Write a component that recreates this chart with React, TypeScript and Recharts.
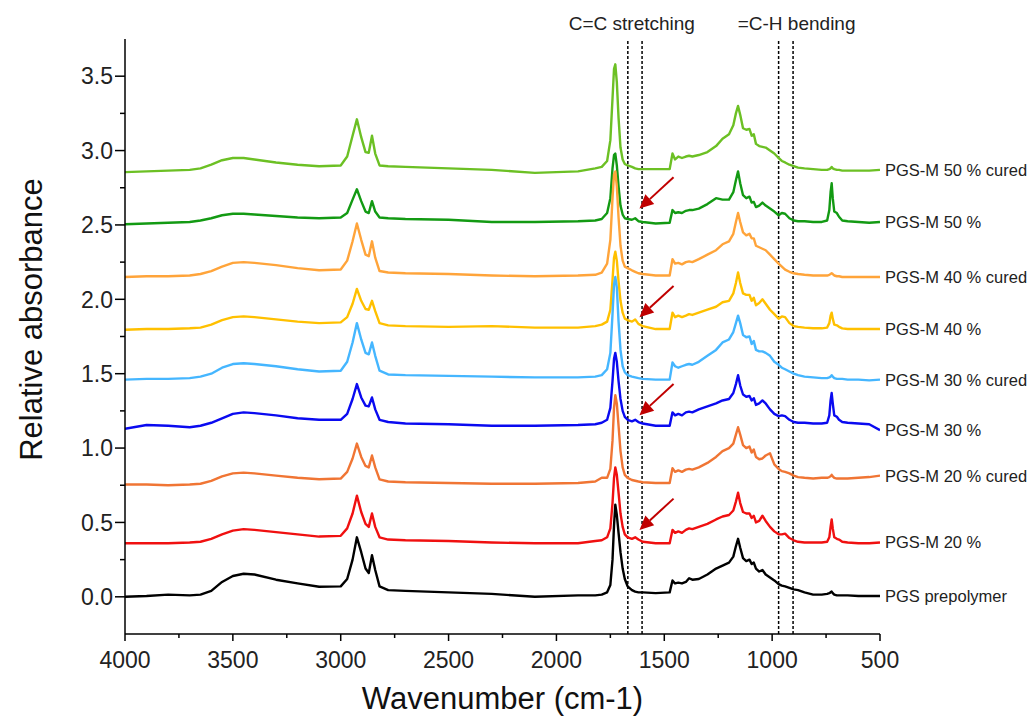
import React from "react";
import { LineChart, Line, XAxis, YAxis, ReferenceLine, LabelList } from "recharts";

// wavenumbers (cm-1) shared by all spectra
const WN = [
  4000, 3900, 3800, 3700, 3650, 3600, 3550, 3500, 3450, 3400, 3300, 3200, 3100, 3000,
  2970, 2945, 2925, 2905, 2885, 2870, 2855, 2840, 2820, 2780,
  2700, 2500, 2300, 2100, 1900, 1820,
  1790, 1765, 1750, 1740, 1733, 1727, 1720, 1712, 1703, 1693, 1683, 1670,
  1650, 1635, 1620, 1600, 1540, 1475,
  1462, 1450, 1435, 1418, 1400, 1385, 1370, 1340, 1300, 1260, 1230, 1200, 1180, 1168, 1158, 1148, 1135,
  1120, 1105, 1095, 1085, 1075, 1060, 1045, 1030, 1010, 990, 970, 955, 940, 920, 900, 880,
  850, 810, 770, 745, 735, 729, 724, 719, 712, 700, 690, 675, 650, 600, 550, 500,
];

const PGS_PREPOLYMER = [
  0, 0.005, 0.015, 0.01, 0.015, 0.04, 0.1, 0.14, 0.155, 0.15, 0.115, 0.09, 0.068, 0.07,
  0.12, 0.25, 0.4, 0.3, 0.19, 0.16, 0.28, 0.18, 0.07, 0.045,
  0.04, 0.03, 0.02, 0, 0.01, 0.01,
  0.015, 0.03, 0.08, 0.25, 0.48, 0.62, 0.55, 0.43, 0.3, 0.19, 0.12, 0.07,
  0.045, 0.035, 0.03, 0.03, 0.025, 0.03,
  0.11, 0.09, 0.095, 0.09, 0.1, 0.125, 0.115, 0.12, 0.15, 0.19, 0.21, 0.23, 0.27, 0.34, 0.39, 0.33, 0.26,
  0.24, 0.25, 0.22, 0.23, 0.19, 0.17, 0.18, 0.15, 0.13, 0.11, 0.085, 0.075, 0.07, 0.06, 0.05, 0.045,
  0.03, 0.015, 0.015, 0.02, 0.025, 0.03, 0.035, 0.025, 0.015, 0.01, 0.01, 0.01, 0.01, 0.005, 0.005, 0.005,
];

const PGSM_20 = [
  0.36, 0.36, 0.36, 0.365, 0.37, 0.39, 0.42, 0.445, 0.455, 0.45, 0.435, 0.42, 0.405, 0.41,
  0.46, 0.56, 0.68, 0.57, 0.49, 0.47, 0.56, 0.47, 0.4, 0.385,
  0.38, 0.375, 0.365, 0.36, 0.36, 0.375,
  0.38, 0.4, 0.46, 0.63, 0.8, 0.87, 0.82, 0.7, 0.56, 0.47, 0.42, 0.4,
  0.39, 0.4, 0.385, 0.37, 0.36, 0.36,
  0.45, 0.43, 0.44, 0.43, 0.45, 0.46, 0.455, 0.47, 0.49, 0.52, 0.54, 0.55, 0.58, 0.64, 0.7, 0.63, 0.57,
  0.56, 0.56, 0.53, 0.545, 0.5, 0.51, 0.545, 0.51, 0.47, 0.44, 0.42, 0.42, 0.425, 0.395, 0.38, 0.37,
  0.365, 0.365, 0.365, 0.37, 0.4, 0.47, 0.52, 0.46, 0.4, 0.39, 0.385, 0.37, 0.365, 0.36, 0.36, 0.365,
];

const PGSM_20_CURED = [
  0.755, 0.755, 0.75, 0.755, 0.76, 0.78, 0.81, 0.83, 0.835, 0.83, 0.815, 0.8, 0.79, 0.795,
  0.84, 0.93, 1.03, 0.94, 0.88, 0.87, 0.95, 0.87, 0.79, 0.775,
  0.77, 0.765, 0.76, 0.76, 0.765, 0.775,
  0.8, 0.8, 0.86, 1.05, 1.27, 1.355, 1.3, 1.15, 0.98, 0.87, 0.82, 0.8,
  0.785, 0.78, 0.775, 0.77, 0.765, 0.765,
  0.865, 0.84, 0.85, 0.84, 0.855, 0.86, 0.855, 0.87, 0.9, 0.94, 0.98, 1.0, 1.03, 1.09, 1.14, 1.09, 1.02,
  1.0, 1.01, 0.97, 0.99, 0.94, 0.925, 0.93, 0.95, 0.965, 0.89, 0.86, 0.845, 0.84, 0.83, 0.815, 0.805,
  0.8, 0.795, 0.8, 0.8, 0.805, 0.81, 0.82, 0.81, 0.8, 0.795, 0.795, 0.795, 0.795, 0.8, 0.805, 0.815,
];

const PGSM_30 = [
  1.13, 1.155, 1.15, 1.14, 1.15, 1.17, 1.2, 1.23, 1.24, 1.235, 1.22, 1.2, 1.19, 1.19,
  1.23, 1.33, 1.43, 1.34, 1.285, 1.28, 1.34, 1.26, 1.19, 1.175,
  1.165, 1.16, 1.15, 1.15, 1.155, 1.16,
  1.17, 1.19, 1.27, 1.45, 1.6, 1.64, 1.58, 1.45, 1.33, 1.25, 1.21, 1.19,
  1.18, 1.19, 1.175, 1.165, 1.15, 1.15,
  1.24, 1.22, 1.23, 1.22, 1.24, 1.245, 1.24, 1.26, 1.28, 1.3, 1.32, 1.33, 1.37, 1.43, 1.49, 1.42, 1.36,
  1.345, 1.35, 1.32, 1.335, 1.29, 1.3, 1.32, 1.3, 1.26, 1.23, 1.215, 1.22, 1.215, 1.19, 1.175, 1.17,
  1.17, 1.165, 1.165, 1.17, 1.22, 1.32, 1.37, 1.3, 1.22, 1.21, 1.19, 1.175, 1.17, 1.165, 1.16, 1.12,
];

const PGSM_30_CURED = [
  1.46, 1.465, 1.465, 1.47, 1.48, 1.5, 1.54, 1.565, 1.57, 1.565, 1.55, 1.53, 1.515, 1.52,
  1.58, 1.71, 1.84, 1.73, 1.64, 1.63, 1.71, 1.62, 1.52, 1.495,
  1.49, 1.485, 1.48, 1.475, 1.475, 1.48,
  1.49, 1.53, 1.64, 1.9, 2.1, 2.15, 2.08, 1.85, 1.66, 1.55, 1.51, 1.49,
  1.48, 1.475, 1.47, 1.465, 1.46, 1.46,
  1.575, 1.55, 1.54, 1.55, 1.56, 1.565, 1.56, 1.58, 1.62, 1.66, 1.71, 1.73, 1.78, 1.84, 1.89, 1.84, 1.76,
  1.745, 1.75, 1.7, 1.72, 1.66, 1.65, 1.65, 1.64, 1.62, 1.58, 1.56, 1.54, 1.53, 1.515, 1.5, 1.49,
  1.48, 1.475, 1.47, 1.47, 1.475, 1.48, 1.49, 1.48, 1.47, 1.465, 1.465, 1.465, 1.46, 1.46, 1.455, 1.46,
];

const PGSM_40 = [
  1.795, 1.8, 1.8, 1.805, 1.81, 1.83, 1.86, 1.88, 1.885, 1.88, 1.865, 1.85, 1.84, 1.845,
  1.88, 1.97, 2.07, 1.99, 1.935, 1.93, 1.99, 1.92, 1.84, 1.825,
  1.82, 1.815, 1.82, 1.81, 1.81, 1.82,
  1.83, 1.85, 1.93, 2.13, 2.28, 2.32, 2.26, 2.12, 1.99, 1.91, 1.87, 1.86,
  1.85, 1.865, 1.835, 1.82, 1.8, 1.8,
  1.91, 1.88, 1.89, 1.88, 1.89, 1.9, 1.895, 1.91, 1.93, 1.95, 1.98, 1.99, 2.04, 2.11, 2.18, 2.11, 2.04,
  2.03, 2.03, 1.99, 2.01, 1.96, 1.975, 2.0, 1.97, 1.93, 1.9, 1.87, 1.885, 1.88, 1.84, 1.82, 1.815,
  1.81, 1.805, 1.805, 1.81, 1.84, 1.89, 1.91, 1.87, 1.83, 1.825, 1.815, 1.805, 1.8, 1.8, 1.8, 1.8,
];

const PGSM_40_CURED = [
  2.15, 2.155, 2.155, 2.16, 2.17, 2.19, 2.22, 2.245, 2.25, 2.245, 2.23, 2.21, 2.195, 2.2,
  2.26, 2.39, 2.51, 2.4, 2.3, 2.29, 2.39, 2.28, 2.19, 2.18,
  2.175, 2.17, 2.16, 2.155, 2.16, 2.165,
  2.18, 2.24, 2.4, 2.68, 2.84, 2.86, 2.76, 2.55, 2.36, 2.26, 2.22, 2.21,
  2.195, 2.185, 2.175, 2.17, 2.16, 2.16,
  2.27, 2.24, 2.245, 2.235, 2.25, 2.255, 2.25, 2.27, 2.3, 2.33, 2.37, 2.39, 2.44, 2.52, 2.58, 2.52, 2.45,
  2.43, 2.44, 2.41, 2.41, 2.36, 2.35, 2.34, 2.33, 2.3, 2.27, 2.24, 2.22, 2.2, 2.185, 2.175, 2.17,
  2.165, 2.16, 2.16, 2.16, 2.165, 2.17, 2.175, 2.17, 2.16, 2.155, 2.155, 2.15, 2.15, 2.15, 2.15, 2.15,
];

const PGSM_50 = [
  2.505, 2.51, 2.515, 2.52, 2.53, 2.545, 2.565, 2.575, 2.575, 2.57, 2.56, 2.55, 2.545, 2.55,
  2.58, 2.67, 2.74, 2.66, 2.59, 2.58, 2.66, 2.59, 2.55, 2.545,
  2.54, 2.535, 2.52, 2.52, 2.525, 2.53,
  2.54, 2.58, 2.68, 2.88, 2.97, 2.98, 2.9, 2.76, 2.63, 2.57, 2.545, 2.54,
  2.535, 2.545, 2.525, 2.52, 2.51, 2.515,
  2.6, 2.58, 2.585, 2.58, 2.595, 2.6, 2.6, 2.61, 2.64, 2.68, 2.67, 2.67, 2.72, 2.8, 2.86, 2.78, 2.7,
  2.68, 2.69, 2.65, 2.655, 2.62, 2.63, 2.65, 2.63, 2.61, 2.59, 2.565, 2.58, 2.575, 2.545, 2.53, 2.525,
  2.525, 2.52, 2.52, 2.53, 2.6, 2.72, 2.78, 2.68, 2.59, 2.58, 2.555, 2.53, 2.525, 2.52, 2.515, 2.52,
];

const PGSM_50_CURED = [
  2.855, 2.86, 2.865, 2.87, 2.88, 2.905, 2.935, 2.95, 2.95, 2.94, 2.92, 2.905, 2.895, 2.9,
  2.96, 3.1, 3.21, 3.09, 2.99, 2.985, 3.1, 2.98, 2.9, 2.895,
  2.89, 2.88, 2.87, 2.85, 2.86, 2.88,
  2.89, 2.93, 3.07, 3.35, 3.55, 3.58, 3.46, 3.22, 3.02, 2.94, 2.91, 2.9,
  2.89, 2.88, 2.875, 2.875, 2.875, 2.875,
  2.98, 2.94, 2.96, 2.95, 2.96, 2.965, 2.96, 2.97, 2.99, 3.03, 3.08, 3.11, 3.17, 3.25, 3.3, 3.24, 3.15,
  3.14, 3.145, 3.1, 3.11, 3.045, 3.03, 3.025, 3.02, 3.0, 2.98, 2.95, 2.93, 2.92, 2.905, 2.895, 2.885,
  2.88, 2.875, 2.87, 2.87, 2.875, 2.88, 2.89, 2.88, 2.875, 2.87, 2.87, 2.865, 2.865, 2.865, 2.865, 2.87,
];

const X_TICKS = [4000, 3750, 3500, 3250, 3000, 2750, 2500, 2250, 2000, 1750, 1500, 1250, 1000, 750, 500];
const Y_TICKS = [0, 0.25, 0.5, 0.75, 1, 1.25, 1.5, 1.75, 2, 2.25, 2.5, 2.75, 3, 3.25, 3.5];

// dashed marker lines (cm-1)
const CC_STRETCH = [1669, 1603];
const CH_BEND = [970, 903];

// arrows pointing at the C=C shoulder: [wn, absorbance] tail -> head
const ARROWS = [
  { from: [1457, 2.82], to: [1615, 2.61] },
  { from: [1457, 2.09], to: [1615, 1.88] },
  { from: [1457, 1.43], to: [1615, 1.22] },
  { from: [1457, 0.66], to: [1615, 0.45] },
];

// drawn top to bottom so lower traces sit on top
const SERIES = [
  { key: "m50c", name: "PGS-M 50 % cured", color: "#6CC024", values: PGSM_50_CURED },
  { key: "m50", name: "PGS-M 50 %", color: "#139A13", values: PGSM_50 },
  { key: "m40c", name: "PGS-M 40 % cured", color: "#FFA43A", values: PGSM_40_CURED },
  { key: "m40", name: "PGS-M 40 %", color: "#FFC000", values: PGSM_40 },
  { key: "m30c", name: "PGS-M 30 % cured", color: "#45B6FF", values: PGSM_30_CURED },
  { key: "m30", name: "PGS-M 30 %", color: "#0A0AF0", values: PGSM_30 },
  { key: "m20c", name: "PGS-M 20 % cured", color: "#F07534", values: PGSM_20_CURED },
  { key: "m20", name: "PGS-M 20 %", color: "#F01010", values: PGSM_20 },
  { key: "pgs", name: "PGS prepolymer", color: "#000000", values: PGS_PREPOLYMER },
];

const data = WN.map((wn, i) => {
  const row: Record<string, number> = { wn };
  SERIES.forEach(s => { row[s.key] = s.values[i]; });
  return row;
});

const FONT = "'Liberation Sans', Arial, sans-serif";

function XTick({ x, y, payload }: any) {
  const major = payload.value % 500 === 0;
  return (
    <g>
      <line x1={x} x2={x} y1={y} y2={y + (major ? 7 : 4)} stroke="#000" strokeWidth={1.5} />
      {major && (
        <text x={x} y={y + 34} textAnchor="middle" fontSize={23} fontFamily={FONT} fill="#222">{payload.value}</text>
      )}
    </g>
  );
}

function YTick({ x, y, payload }: any) {
  const v = payload.value;
  const major = Math.abs(v * 2 - Math.round(v * 2)) < 1e-6;
  return (
    <g>
      <line x1={x - (major ? 10 : 5)} x2={x} y1={y} y2={y} stroke="#000" strokeWidth={1.5} />
      {major && (
        <text x={x - 12} y={y} dy="0.36em" textAnchor="end" fontSize={23} fontFamily={FONT} fill="#222">{v.toFixed(1)}</text>
      )}
    </g>
  );
}

function Arrow(p: any) {
  const { x1, y1, x2, y2 } = p;
  const dx = x2 - x1, dy = y2 - y1;
  const len = Math.hypot(dx, dy) || 1;
  const ux = dx / len, uy = dy / len;
  const hl = 14, hw = 6.5;
  const bx = x2 - ux * hl, by = y2 - uy * hl;
  return (
    <g>
      <line x1={x1} y1={y1} x2={bx} y2={by} stroke="#C00000" strokeWidth={2} />
      <polygon points={`${x2},${y2} ${bx - uy * hw},${by + ux * hw} ${bx + uy * hw},${by - ux * hw}`} fill="#C00000" />
    </g>
  );
}

const topLabel = (text: string, dx: number) => (p: any) => {
  const vb = p.viewBox || {};
  return (
    <text x={vb.x + dx} y={vb.y - 9} textAnchor="middle" fontSize={19} fontFamily={FONT} fill="#222">{text}</text>
  );
};

const endLabel = (text: string) => (p: any) => {
  if (p.index !== WN.length - 1) return null;
  const x = p.x ?? p.viewBox?.x;
  const y = p.y ?? p.viewBox?.y;
  return (
    <text x={x + 5} y={y} dy="0.36em" fontSize={16.5} fontFamily={FONT} fill="#222">{text}</text>
  );
};

export default function App() {
  return (
    <div style={{ position: "absolute", left: 0, top: 0, width: 1036, height: 724, background: "#fff", fontFamily: FONT }}>
      <LineChart width={1036} height={724} data={data} margin={{ top: 39, right: 156, bottom: 0, left: 0 }}>
        <XAxis
          dataKey="wn" type="number" domain={[500, 4000]} reversed allowDataOverflow
          ticks={X_TICKS} interval={0} height={90} tickSize={0} tickMargin={0} tickLine={false}
          axisLine={{ stroke: "#000", strokeWidth: 1.5 }} tick={<XTick />}
          label={(p: any) => {
            const vb = p.viewBox || {};
            return (
              <text x={vb.x + vb.width / 2} y={vb.y + 75} textAnchor="middle" fontSize={31} fontFamily={FONT} fill="#111">
                Wavenumber (cm-1)
              </text>
            );
          }}
        />
        <YAxis
          type="number" domain={[-0.25, 3.75]} allowDataOverflow
          ticks={Y_TICKS} interval={0} width={125} tickSize={0} tickMargin={0} tickLine={false}
          axisLine={{ stroke: "#000", strokeWidth: 1.5 }} tick={<YTick />}
          label={(p: any) => {
            const vb = p.viewBox || {};
            const cy = vb.y + vb.height / 2 - 17;
            return (
              <text x={42} y={cy} transform={`rotate(-90 42 ${cy})`} textAnchor="middle" fontSize={31} fontFamily={FONT} fill="#111">
                Relative absorbance
              </text>
            );
          }}
        />

        {CC_STRETCH.map((x, i) => (
          <ReferenceLine key={"cc" + x} x={x} stroke="#000" strokeWidth={1.5} strokeDasharray="3 2"
            label={i === 0 ? topLabel("C=C stretching", 4) : undefined} />
        ))}
        {CH_BEND.map((x, i) => (
          <ReferenceLine key={"ch" + x} x={x} stroke="#000" strokeWidth={1.5} strokeDasharray="3 2"
            label={i === 0 ? topLabel("=C-H bending", 18) : undefined} />
        ))}

        {SERIES.map(s => (
          <Line key={s.key} dataKey={s.key} name={s.name} type="linear" stroke={s.color} strokeWidth={2.4}
            strokeLinejoin="round" dot={false} activeDot={false} isAnimationActive={false}>
            <LabelList dataKey={s.key} content={endLabel(s.name)} />
          </Line>
        ))}

        {ARROWS.map((a, i) => (
          <ReferenceLine key={"ar" + i} segment={[{ x: a.from[0], y: a.from[1] }, { x: a.to[0], y: a.to[1] }]} shape={Arrow} />
        ))}
      </LineChart>
    </div>
  );
}
